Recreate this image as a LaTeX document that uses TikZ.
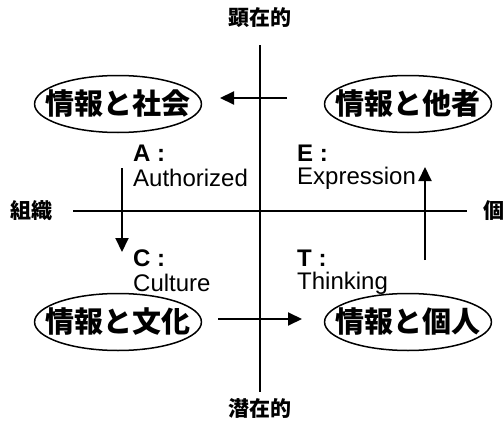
\documentclass[tikz,border=0pt]{standalone}
\usepackage{fontspec}
\setmainfont{Liberation Sans}
\newfontfamily\cjk{Noto Sans CJK JP}
\usetikzlibrary{arrows.meta,shapes.geometric}
\begin{document}
\begin{tikzpicture}[x=1pt,y=-1pt,
  axis/.style={line width=2pt},
  ell/.style={draw,line width=1.5pt,ellipse,minimum width=0pt,minimum height=57pt,inner xsep=-13.5pt,inner ysep=0pt,font=\cjk\bfseries\fontsize{29}{29}\selectfont},
  lbl/.style={inner sep=0pt,font=\cjk\bfseries\fontsize{21}{21}\selectfont},
  txt/.style={anchor=west,inner sep=0pt,font=\fontsize{24}{24}\selectfont},
  txtb/.style={anchor=west,inner sep=0pt,font=\bfseries\fontsize{24}{24}\selectfont},
  arr/.style={line width=2pt,-{Triangle[length=14pt,width=13pt]}}]
\useasboundingbox (0,0) rectangle (504,423);
% axis labels
\node[lbl] (top) at (260,18) {顕在的};
\node[lbl] (bottom) at (260,408) {潜在的};
\node[lbl] (left) at (31,211) {組織};
\node[lbl] (right) at (494,211) {個};
% axes
\coordinate (vt) at (260,45);
\coordinate (vb) at (260,392);
\coordinate (hl) at (73,211);
\coordinate (hr) at (467,211);
\draw[axis] (vt) -- (vb);
\draw[axis] (hl) -- (hr);
% ellipses
\node[ell] (soc) at (118,104) {情報と社会};
\node[ell] (oth) at (408,104) {情報と他者};
\node[ell] (cul) at (118,322) {情報と文化};
\node[ell] (ind) at (408,322) {情報と個人};
% quadrant labels
\node[txtb] (A) at (133,153) {A :};
\node[txt] (Aw) at (133,178) {Authorized};
\node[txtb] (E) at (297,153) {E :};
\node[txt] (Ew) at (297,178) {Expression};
\node[txtb] (C) at (133,258) {C :};
\node[txt] (Cw) at (133,283) {Culture};
\node[txtb] (T) at (297,258) {T :};
\node[txt] (Tw) at (297,283) {Thinking};
% arrows
\coordinate (a1s) at (287,98);
\coordinate (a1e) at (220,98);
\coordinate (a2s) at (122,168);
\coordinate (a2e) at (122,252);
\coordinate (a3s) at (218,319);
\coordinate (a3e) at (302,319);
\coordinate (a4s) at (425,260);
\coordinate (a4e) at (425,167);
\draw[arr] (a1s) -- (a1e);
\draw[arr] (a2s) -- (a2e);
\draw[arr] (a3s) -- (a3e);
\draw[arr] (a4s) -- (a4e);
\end{tikzpicture}
\end{document}
